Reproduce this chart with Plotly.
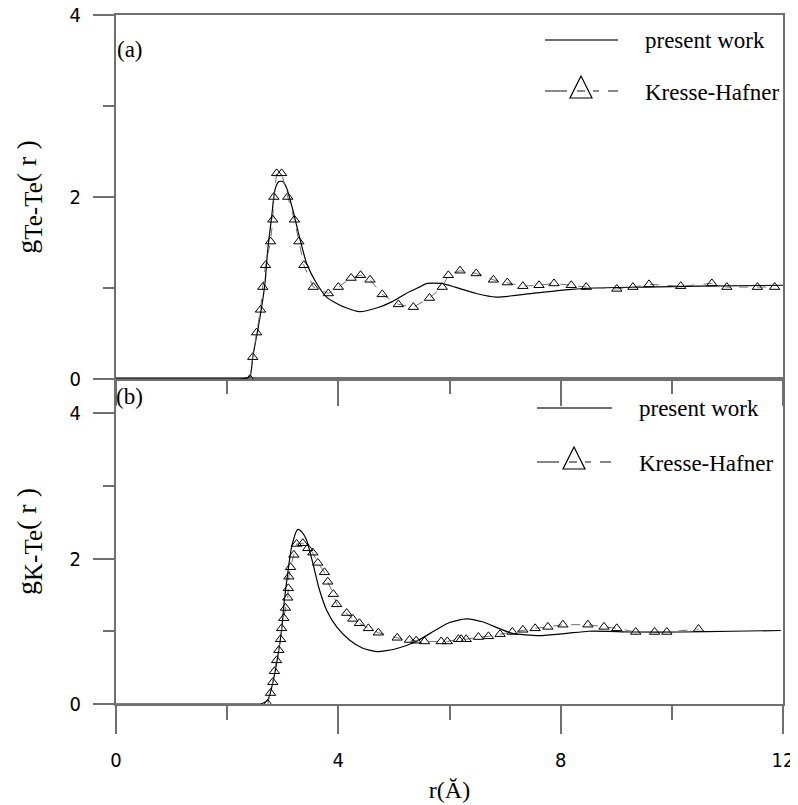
import plotly.graph_objects as go

# ---------------- data ----------------
# (a) Te-Te, present work
r_tt_pw = [0.0, 1.2, 2.2, 2.30, 2.41, 2.46, 2.55, 2.62, 2.68, 2.73, 2.80, 2.86, 2.93, 3.00, 3.07,
           3.18, 3.30, 3.43, 3.61, 3.79, 3.97, 4.15, 4.38, 4.69, 4.97, 5.22, 5.46, 5.60,
           5.85, 6.10, 6.48, 6.84, 7.49, 8.09, 8.60, 9.50, 10.50, 12.0]
g_tt_pw = [0.0, 0.0, 0.0, 0.005, 0.03, 0.24, 0.54, 0.79, 1.05, 1.42, 1.78, 2.08, 2.17, 2.17, 2.10,
           1.86, 1.56, 1.27, 1.05, 0.90, 0.83, 0.78, 0.74, 0.78, 0.85, 0.94, 1.01, 1.05,
           1.05, 1.01, 0.94, 0.90, 0.94, 0.98, 1.00, 1.01, 1.02, 1.03]

# (a) Te-Te, Kresse-Hafner
r_tt_kh = [2.41, 2.46, 2.53, 2.60, 2.64, 2.69, 2.78, 2.82, 2.84, 2.89, 2.98, 3.09, 3.21, 3.29,
           3.38, 3.55, 3.82, 4.00, 4.23, 4.40, 4.57, 4.79, 5.08, 5.35, 5.64, 5.87, 5.98,
           6.19, 6.48, 6.79, 7.04, 7.32, 7.61, 7.88, 8.19, 8.46, 9.01, 9.30, 9.59, 10.16,
           10.72, 10.99, 11.54, 11.85]
g_tt_kh = [0.0, 0.24, 0.51, 0.76, 1.01, 1.25, 1.51, 1.75, 2.00, 2.26, 2.26, 2.00, 1.75, 1.51,
           1.25, 1.01, 0.94, 1.01, 1.11, 1.14, 1.09, 0.93, 0.82, 0.79, 0.89, 1.01, 1.14,
           1.19, 1.16, 1.09, 1.06, 1.02, 1.03, 1.05, 1.03, 1.01, 0.99, 1.01, 1.04, 1.02,
           1.05, 1.01, 1.01, 1.01]

# (b) K-Te, present work
r_kt_pw = [0.0, 1.3, 2.50, 2.60, 2.73, 2.82, 2.91, 2.98, 3.03, 3.09, 3.16, 3.27, 3.35, 3.43, 3.54,
           3.66, 3.79, 3.97, 4.20, 4.43, 4.69, 5.04, 5.40, 5.76, 6.00, 6.30, 6.59, 6.89, 7.13,
           7.61, 8.10, 8.51, 9.28, 10.18, 11.08, 11.96]
g_kt_pw = [0.0, 0.0, 0.0, 0.0, 0.05, 0.29, 0.65, 1.02, 1.43, 1.80, 2.16, 2.40, 2.36, 2.25, 1.94,
           1.57, 1.29, 1.06, 0.88, 0.77, 0.72, 0.76, 0.86, 1.02, 1.12, 1.17, 1.13, 1.04, 0.97,
           0.94, 0.97, 1.00, 0.99, 0.99, 1.00, 1.01]

# (b) K-Te, Kresse-Hafner
r_kt_kh = [2.73, 2.78, 2.82, 2.85, 2.89, 2.93, 2.96, 2.98, 3.02, 3.05, 3.09, 3.10, 3.11, 3.14,
           3.20, 3.25, 3.36, 3.45, 3.54, 3.63, 3.75, 3.81, 3.91, 3.97, 4.15, 4.26, 4.38,
           4.54, 4.72, 5.06, 5.28, 5.40, 5.55, 5.85, 5.96, 6.16, 6.21, 6.30, 6.52, 6.70,
           6.91, 7.13, 7.32, 7.54, 7.77, 8.04, 8.49, 8.78, 9.01, 9.35, 9.69, 9.91, 10.48]
g_kt_kh = [0.0, 0.15, 0.30, 0.45, 0.60, 0.74, 0.89, 1.04, 1.18, 1.32, 1.46, 1.59, 1.75, 1.88,
           2.05, 2.20, 2.21, 2.14, 2.08, 1.94, 1.81, 1.68, 1.51, 1.37, 1.25, 1.17, 1.11,
           1.04, 0.98, 0.91, 0.88, 0.87, 0.86, 0.86, 0.86, 0.89, 0.89, 0.89, 0.92, 0.93,
           0.96, 0.99, 1.02, 1.04, 1.06, 1.09, 1.09, 1.06, 1.04, 0.99, 0.99, 0.99, 1.03]

x_ticks = [0, 4, 8, 12]
y_ticks = [0, 2, 4]
legend_labels = ["present work", "Kresse-Hafner"]
panel_labels = ["(a)", "(b)"]

# ---------------- layout geometry ----------------
OFF = 8                      # page body margin of the html page
W, H = 798 - OFF, 805 - OFF  # figure size so that it fits in the window
# desired plot-area edges in screen pixels
SX0, SX1, SY0, SY1 = 116, 783, 15, 704
ML, MT = SX0 - OFF, SY0 - OFF
MR, MB = W - (SX1 - OFF), H - (SY1 - OFF)
PW, PH = SX1 - SX0, SY1 - SY0
SPLIT = 379  # screen row separating panels


def px(x):
    return (x - SX0) / PW


def py(y):
    return (SY1 - y) / PH


split_frac = py(SPLIT)

SERIF = "Liberation Serif, Times New Roman, serif"
SANS = "Liberation Sans Narrow, DejaVu Sans Condensed, Arial Narrow, sans-serif"
AX = "#707070"

fig = go.Figure()

# top panel (a)
fig.add_trace(go.Scatter(x=r_tt_pw, y=g_tt_pw, mode="lines", xaxis="x2", yaxis="y2",
                         line=dict(color="black", width=1.2, shape="spline", smoothing=0.6),
                         showlegend=False))
fig.add_trace(go.Scatter(x=r_tt_kh, y=g_tt_kh, mode="lines+markers", xaxis="x2", yaxis="y2",
                         line=dict(color="#707070", width=1, dash="dash"),
                         marker=dict(symbol="triangle-up-open", size=9, color="black",
                                     line=dict(width=1, color="black")),
                         showlegend=False))
# bottom panel (b)
fig.add_trace(go.Scatter(x=r_kt_pw, y=g_kt_pw, mode="lines", xaxis="x", yaxis="y",
                         line=dict(color="black", width=1.2, shape="spline", smoothing=0.6),
                         showlegend=False))
fig.add_trace(go.Scatter(x=r_kt_kh, y=g_kt_kh, mode="lines+markers", xaxis="x", yaxis="y",
                         line=dict(color="#707070", width=1, dash="dash"),
                         marker=dict(symbol="triangle-up-open", size=9, color="black",
                                     line=dict(width=1, color="black")),
                         showlegend=False))

tickfont = dict(family=SANS, size=20, color="black")

common_x = dict(range=[0, 12], tickmode="array", tickvals=x_ticks, ticks="outside",
                showline=True, linecolor=AX, linewidth=2, tickcolor=AX, tickwidth=1.5,
                showgrid=False, zeroline=False, mirror=True, tickfont=tickfont,
                automargin=False, ticklabeloverflow="allow")
common_y = dict(tickmode="array", tickvals=y_ticks, ticks="outside", ticklen=21,
                showline=True, linecolor=AX, linewidth=2, tickcolor=AX, tickwidth=1.5,
                showgrid=False, zeroline=False, mirror=True, tickfont=tickfont,
                minor=dict(dtick=1, ticklen=11, tickcolor=AX, tickwidth=1.5, ticks="outside"),
                ticklabelstandoff=8, automargin=False, ticklabeloverflow="allow")

title_font = dict(family=SERIF, size=28, color="black")


def ytitle(sub):
    return ("g<sub><span style='font-size:25px'>" + sub + "</span></sub>"
            "(&nbsp;r&nbsp;)")


fig.update_layout(
    width=W, height=H,
    margin=dict(l=ML, r=MR, t=MT, b=MB, autoexpand=False),
    paper_bgcolor="white", plot_bgcolor="white",
    xaxis=dict(**common_x, anchor="y", ticklen=28, ticklabelstandoff=9,
               minor=dict(dtick=2, ticklen=14, tickcolor=AX, tickwidth=1.5, ticks="outside"),
               title=dict(text="r(Ă)", font=dict(family=SERIF, size=24, color="black"),
                          standoff=10)),
    xaxis2=dict(**common_x, anchor="y2", ticklen=25, showticklabels=False, matches="x",
                minor=dict(dtick=2, ticklen=13, tickcolor=AX, tickwidth=1.5, ticks="outside")),
    yaxis=dict(**common_y, domain=[0, split_frac], range=[0, (SY1 - SPLIT) / 72.75],
               title=dict(text=ytitle("K-Te"), font=title_font, standoff=25)),
    yaxis2=dict(**common_y, domain=[split_frac, 1], range=[0, 4],
                title=dict(text=ytitle("Te-Te"), font=title_font, standoff=25)),
)

# ---------------- manual legends & panel labels ----------------
shapes = []
annotations = []
legend_rows = [
    # (line x0, line x1, y row1, y row2, triangle centre x, text x)
    (545, 618, 40, 91, 581, 643),
    (537, 612, 408, 462, 574, 637),
]
for (lx0, lx1, y1, y2, tx, textx) in legend_rows:
    shapes.append(dict(type="line", xref="paper", yref="paper",
                       x0=px(lx0), x1=px(lx1), y0=py(y1), y1=py(y1),
                       line=dict(color="#404040", width=1.5)))
    shapes.append(dict(type="line", xref="paper", yref="paper",
                       x0=px(lx0), x1=px(lx1), y0=py(y2), y1=py(y2),
                       line=dict(color="#606060", width=1.5,
                                 dash="22px,10px,8px,8px,6px,9px,11px")))
    path = "M {a},{b} L {c},{d} L {e},{d} Z".format(
        a=px(tx), b=py(y2 - 15), c=px(tx - 11), d=py(y2 + 7), e=px(tx + 11))
    shapes.append(dict(type="path", xref="paper", yref="paper", path=path,
                       line=dict(color="black", width=1.2), fillcolor="rgba(0,0,0,0)"))
    annotations.append(dict(xref="paper", yref="paper", x=px(textx), y=py(y1 + 1),
                            text=legend_labels[0], showarrow=False, xanchor="left",
                            yanchor="middle", font=dict(family=SERIF, size=23, color="black")))
    annotations.append(dict(xref="paper", yref="paper", x=px(textx), y=py(y2 + 1),
                            text=legend_labels[1], showarrow=False, xanchor="left",
                            yanchor="middle", font=dict(family=SERIF, size=23, color="black")))

annotations.append(dict(xref="paper", yref="paper", x=px(115), y=py(49), text=panel_labels[0],
                        showarrow=False, xanchor="left", yanchor="middle",
                        font=dict(family=SERIF, size=23, color="black")))
annotations.append(dict(xref="paper", yref="paper", x=px(114), y=py(397), text=panel_labels[1],
                        showarrow=False, xanchor="left", yanchor="middle",
                        font=dict(family=SERIF, size=23, color="black")))

fig.update_layout(shapes=shapes, annotations=annotations)

fig.write_html("out.html")
